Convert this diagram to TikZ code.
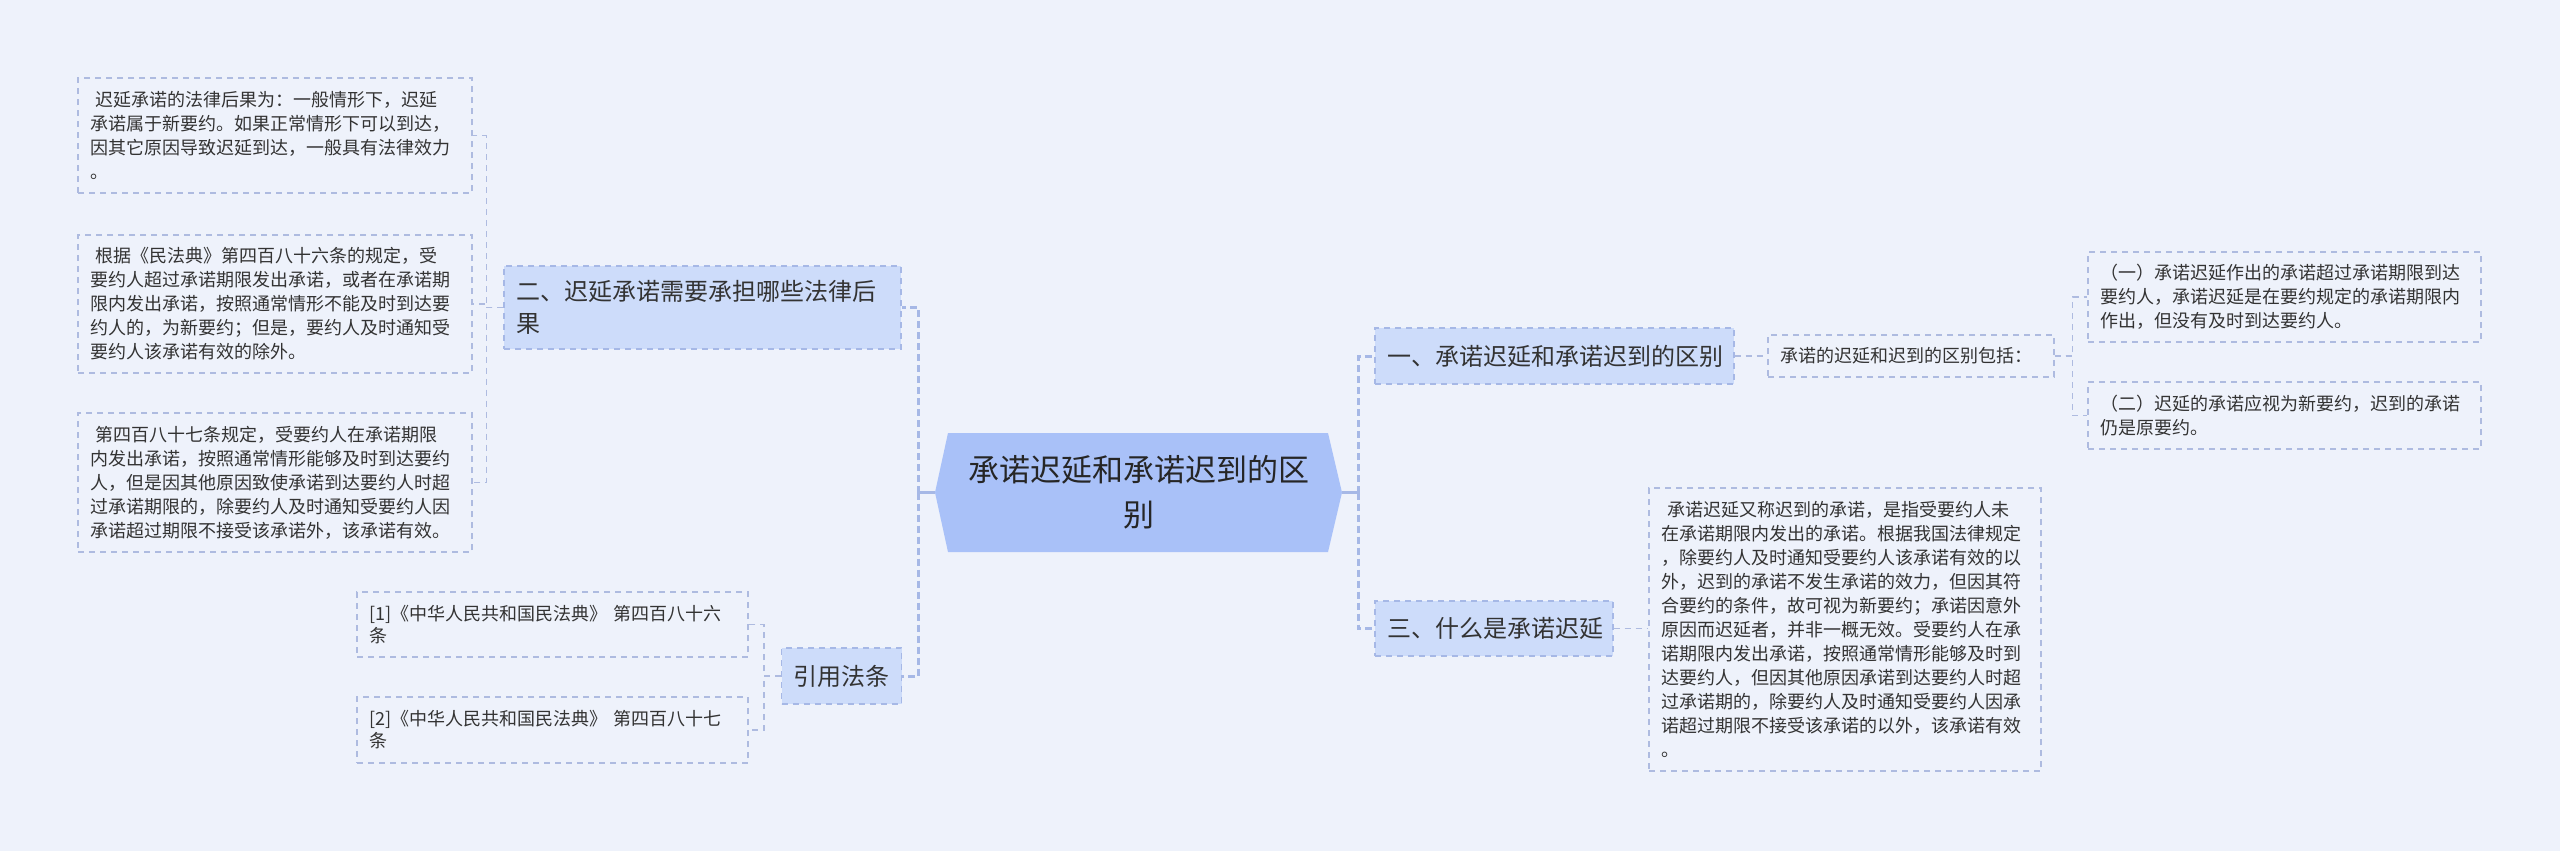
\documentclass[tikz,border=0pt]{standalone}
\usepackage{fontspec}
\setmainfont{Noto Sans CJK SC}
\usepackage{xcolor}
\usepackage{tikz}
\usetikzlibrary{positioning}

\definecolor{bgcol}{HTML}{EEF2FB}
\definecolor{rootcol}{HTML}{A9C1F8}
\definecolor{branchcol}{HTML}{CDDCFA}
\definecolor{linecol}{HTML}{A6B8E6}
\definecolor{edgecol}{HTML}{AEBBE0}
\definecolor{txtcol}{HTML}{333333}

\tikzset{
    leafbox/.style={draw=edgecol, line width=0.7pt, dash pattern=on 3pt off 2.5pt,
        text=txtcol, align=left, inner xsep=6pt, inner ysep=0pt,
        font=\fontsize{9pt}{12pt}\selectfont},
    branchbox/.style={fill=branchcol, draw=linecol, line width=0.7pt, dash pattern=on 3pt off 2.5pt,
        text=txtcol, align=left, inner xsep=6pt, inner ysep=0pt,
        font=\fontsize{12pt}{16pt}\selectfont},
    rootline/.style={draw=linecol, line width=1.5pt},
    trunkline/.style={draw=linecol, line width=1.5pt, dash pattern=on 3.5pt off 2pt},
    twigline/.style={draw=edgecol, line width=0.7pt, dash pattern=on 3pt off 2.5pt},
}

\begin{document}
\begin{tikzpicture}[x=0.5pt, y=-0.5pt]
    % Nền
    \fill[bgcol] (0,0) rectangle (2560,851);
    \useasboundingbox (0,0) rectangle (2560,851);

    % Nút gốc
    \fill[rootcol] (948,433) -- (1328,433) -- (1342,492.5) -- (1328,552)
        -- (948,552) -- (935,492.5) -- cycle;
    \node[minimum width=203.5pt, minimum height=59.5pt, inner sep=0pt, align=center,
        text=black!85, font=\fontsize{15.5pt}{22.5pt}\selectfont]
        (root) at (1138.5,492.5) {承诺迟延和承诺迟到的区\\别};

    % Nhánh bên trái
    \node[branchbox, text width=186.5pt, minimum height=41.5pt] (law) at (702.5,307.5)
        {二、迟延承诺需要承担哪些法律后\\果};
    \node[branchbox, align=center, minimum width=59.5pt, minimum height=28pt] (cite) at (841.5,676)
        {引用法条};

    \node[leafbox, text width=185pt, minimum height=57.5pt] (law1) at (275,135.5)
        {\ 迟延承诺的法律后果为：一般情形下，迟延\\承诺属于新要约。如果正常情形下可以到达，\\因其它原因导致迟延到达，一般具有法律效力\\。};
    \node[leafbox, text width=185pt, minimum height=69pt] (law2) at (275,304)
        {\ 根据《民法典》第四百八十六条的规定，受\\要约人超过承诺期限发出承诺，或者在承诺期\\限内发出承诺，按照通常情形不能及时到达要\\约人的，为新要约；但是，要约人及时通知受\\要约人该承诺有效的除外。};
    \node[leafbox, text width=185pt, minimum height=69.5pt] (law3) at (275,482.5)
        {\ 第四百八十七条规定，受要约人在承诺期限\\内发出承诺，按照通常情形能够及时到达要约\\人，但是因其他原因致使承诺到达要约人时超\\过承诺期限的，除要约人及时通知受要约人因\\承诺超过期限不接受该承诺外，该承诺有效。};

    \node[leafbox, text width=183.5pt, minimum height=32.5pt, font=\fontsize{9pt}{11pt}\selectfont]
        (cite1) at (552.5,624.5) {[1]《中华人民共和国民法典》 第四百八十六\\条};
    \node[leafbox, text width=183.5pt, minimum height=33pt, font=\fontsize{9pt}{11pt}\selectfont]
        (cite2) at (552.5,730) {[2]《中华人民共和国民法典》 第四百八十七\\条};

    % Nhánh bên phải
    \node[branchbox, text width=167.5pt, minimum height=28pt] (diff) at (1554.5,356)
        {一、承诺迟延和承诺迟到的区别};
    \node[branchbox, text width=107pt, minimum height=27.5pt] (what) at (1494,628.5)
        {三、什么是承诺迟延};

    \node[leafbox, text width=131pt, minimum height=21pt] (incl) at (1911,356)
        {承诺的迟延和迟到的区别包括：};
    \node[leafbox, text width=184.5pt, minimum height=45pt] (diff1) at (2284.5,297)
        {（一）承诺迟延作出的承诺超过承诺期限到达\\要约人，承诺迟延是在要约规定的承诺期限内\\作出，但没有及时到达要约人。};
    \node[leafbox, text width=184.5pt, minimum height=33.5pt] (diff2) at (2284.5,415.5)
        {（二）迟延的承诺应视为新要约，迟到的承诺\\仍是原要约。};

    \node[leafbox, text width=184pt, minimum height=141.5pt] (whatx) at (1845,629.5)
        {\ 承诺迟延又称迟到的承诺，是指受要约人未\\在承诺期限内发出的承诺。根据我国法律规定\\，除要约人及时通知受要约人该承诺有效的以\\外，迟到的承诺不发生承诺的效力，但因其符\\合要约的条件，故可视为新要约；承诺因意外\\原因而迟延者，并非一概无效。受要约人在承\\诺期限内发出承诺，按照通常情形能够及时到\\达要约人，但因其他原因承诺到达要约人时超\\过承诺期的，除要约人及时通知受要约人因承\\诺超过期限不接受该承诺的以外，该承诺有效\\。};

    % Nối gốc với các nhánh
    \draw[rootline] (root.west) -- ++(-16,0) coordinate (lt);
    \draw[trunkline] (lt) |- (law.east);
    \draw[trunkline] (lt) |- (cite.east);
    \draw[rootline] (root.east) -- ++(16,0) coordinate (rt);
    \draw[trunkline] (rt) |- (diff.west);
    \draw[trunkline] (rt) |- (what.west);

    % Nối nhánh với lá
    \foreach \leaf in {law1, law2, law3}
        \draw[twigline] (law.west) -- ++(-17,0) |- (\leaf.east);
    \foreach \leaf in {cite1, cite2}
        \draw[twigline] (cite.west) -- ++(-17,0) |- (\leaf.east);
    \draw[twigline] (diff.east) -- (incl.west);
    \foreach \leaf in {diff1, diff2}
        \draw[twigline] (incl.east) -- ++(18,0) |- (\leaf.west);
    \draw[twigline] (what.east) -- (what.east -| whatx.west);

\end{tikzpicture}
\end{document}
